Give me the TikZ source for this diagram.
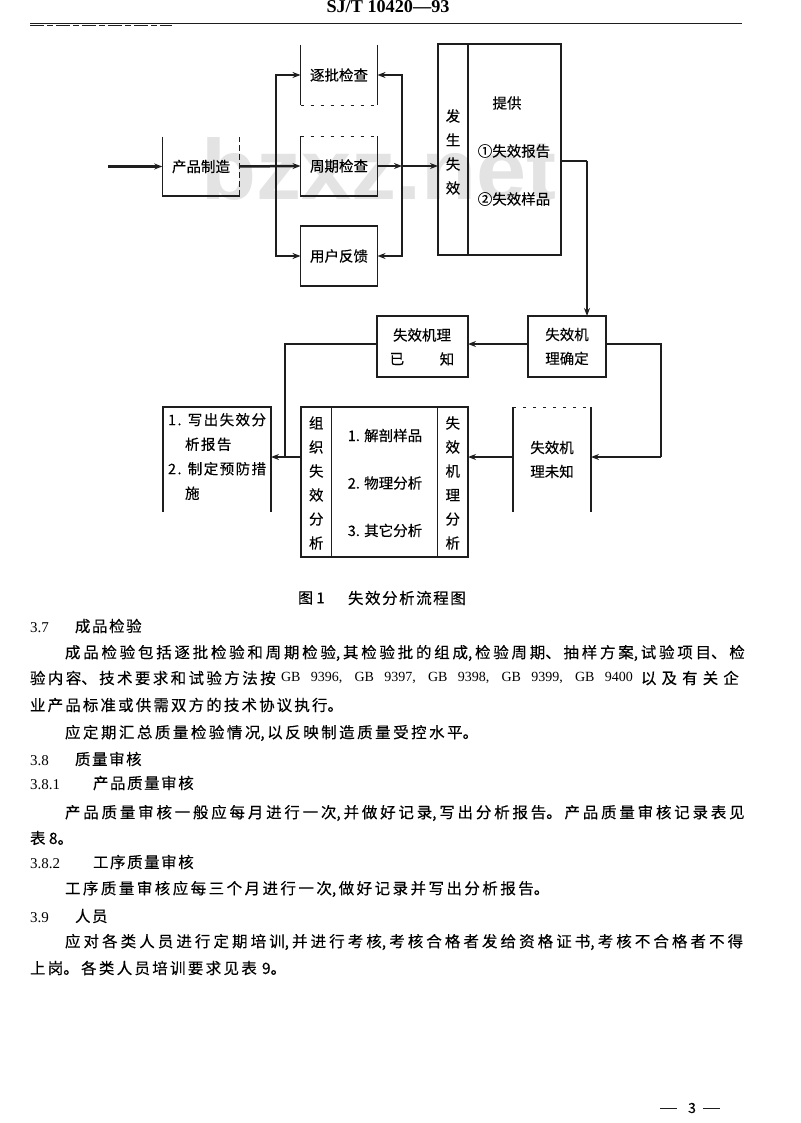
\documentclass[tikz,border=0pt]{standalone}
\usepackage{fontspec}
\usepackage{graphicx}
\setmainfont{Liberation Serif}
\newfontfamily\cjk[FakeBold=0.25]{Noto Sans CJK SC}
\newfontfamily\cjkwide[LetterSpace=10,FakeBold=0.25]{Noto Sans CJK SC}
\newfontfamily\wm{Liberation Sans}
\usetikzlibrary{arrows.meta,calc}
\XeTeXlinebreaklocale "zh"
\XeTeXlinebreakskip=0pt plus 6pt minus 1pt
\definecolor{ink}{HTML}{1E1E1E}
\definecolor{mark}{HTML}{E3E3E3}
\tikzset{
  x=1pt,y=-1pt,
  every node/.style={inner sep=0pt,outer sep=0pt,text=black},
  boxlabel/.style={font=\cjk\fontsize{14.5}{24}\selectfont,align=center},
  plain/.style={boxlabel,minimum width=#1,minimum height=60pt},
  plain/.default=77pt,
  edge/.style={draw=ink,line width=1.1pt},
  faint/.style={draw=ink,line width=.9pt,dash pattern=on 3pt off 7pt},
  thick link/.style={draw=ink,line width=2.5pt},
  thin link/.style={draw=ink,line width=1.3pt},
  tip/.style={-{Stealth[length=8pt,width=6pt]}},
  line/.style={font=\cjk\fontsize{15.5}{18}\selectfont,anchor=west},
  head/.style={font=\cjkwide\fontsize{15.5}{18}\selectfont,anchor=west},
  num/.style={font=\fontsize{15}{18}\selectfont,anchor=west},
}
\begin{document}
\begin{tikzpicture}
\useasboundingbox (0,0) rectangle (800,1123);
\fill[white] (0,0) rectangle (800,1123);

% watermark
\node[text=mark,anchor=center] (wmark) at (379,169) {\resizebox{355pt}{62pt}{\wm\bfseries bzxz.net}};

% header
\node (hdr) at (388,7) {\resizebox{123pt}{12pt}{\bfseries SJ/T 10420—93}};
\coordinate (ruleL) at (30,24);
\coordinate (ruleR) at (742,24);
\coordinate (ruleM) at (172,25.5);
\draw[ink,line width=1pt] (ruleL) -- (ruleR);
\draw[ink,line width=1pt,dash pattern=on 14pt off 3pt on 6pt off 3pt] (30,25.5) -- (ruleM);

% upper row of boxes
\node[plain=77.5pt,minimum height=59pt] (mfg) at (201,166.5) {产品制造};
\node[plain] (batch) at (339,75) {逐批检查};
\node[plain] (period) at (339,166) {周期检查};
\node[plain] (user) at (339,256) {用户反馈};
\node[minimum width=30pt,minimum height=211pt] (occur) at (453,149.5) {};
\node[minimum width=93pt,minimum height=211pt] (supply) at (514.5,149.5) {};
\node[boxlabel] (occurL) at (453,152) {发\\生\\失\\效};
\node[boxlabel] (sup1) at (507,103) {提供};
\node[boxlabel] (sup2) at (514,151) {①失效报告};
\node[boxlabel] (sup3) at (514,199) {②失效样品};

% upper box outlines
\draw[edge] (mfg.north west) -- (mfg.south west) -- (mfg.south east);
\draw[edge,dash pattern=on 6pt off 3pt] (mfg.south east) -- (mfg.north east);
\draw[edge] (batch.north west) -- (batch.south west);
\draw[edge] (batch.north east) -- (batch.south east);
\draw[faint] (batch.south west) -- (batch.south east);
\draw[faint] (period.north west) -- (period.north east);
\draw[edge] (period.north west) -- (period.south west) -- (period.south east) -- (period.north east);
\draw[edge] (user.north west) rectangle (user.south east);
\draw[edge] (occur.north west) rectangle (supply.south east);
\draw[edge] (occur.north east) -- (occur.south east);

% lower boxes
\node[minimum width=91pt,minimum height=61pt] (known) at (422.5,346.5) {};
\node[boxlabel] (known1) at (422,335) {失效机理};
\node[boxlabel] (known2a) at (397,359) {已};
\node[boxlabel] (known2b) at (447,359) {知};
\node[plain=78pt,minimum height=61pt] (fixed) at (567,346.5) {失效机\\理确定};
\node[boxlabel,minimum width=78pt,minimum height=105pt] (unknown) at (552,459.5) {失效机\\理未知};
\node[minimum width=108pt,minimum height=105pt] (report) at (217,459.5) {};
\node[font=\cjkwide\fontsize{14.5}{24.5}\selectfont,align=left,anchor=north west] (reptext) at (168,413) {1. 写出失效分\\\hspace*{17pt}析报告\\2. 制定预防措\\\hspace*{17pt}施};
\node[minimum width=30.5pt,minimum height=150pt] (org) at (316.25,482) {};
\node[minimum width=106pt,minimum height=150pt] (mid) at (384.5,482) {};
\node[minimum width=30.5pt,minimum height=150pt] (mech) at (452.75,482) {};
\node[boxlabel] (orgL) at (316.25,483) {组\\织\\失\\效\\分\\析};
\node[font=\cjk\fontsize{14.5}{47.5}\selectfont,align=center] (midL) at (385,483) {1. 解剖样品\\2. 物理分析\\3. 其它分析};
\node[boxlabel] (mechL) at (452.75,483) {失\\效\\机\\理\\分\\析};

\draw[edge] (known.north west) rectangle (known.south east);
\draw[edge] (fixed.north west) rectangle (fixed.south east);
\draw[edge] (unknown.south west) -- (unknown.north west);
\draw[edge] (unknown.north east) -- (unknown.south east);
\draw[faint] (unknown.north west) -- (unknown.north east);
\draw[edge] (report.south west) -- (report.north west) -- (report.north east) -- (report.south east);
\draw[edge] (org.north west) rectangle (mech.south east);
\draw[edge] (org.north east) -- (org.south east);
\draw[edge] (mech.north west) -- (mech.south west);

% junctions
\coordinate (start) at (108,166.5);
\coordinate (busL) at (276,166.5);
\coordinate (busR) at (402,166);
\coordinate (out) at (561,161);
\coordinate (outC) at (587,161);
\coordinate (turnR) at (661,344);
\coordinate (turnD) at (661,457);
\coordinate (leftBus) at (285,344);
\coordinate (leftJ) at (285,457);

% upper connectors
\draw[thick link,tip] (start) -- (mfg.west);
\draw[thick link,tip] (mfg.east) -- (period.west);
\draw[thick link,tip] (busL) |- (batch.west);
\draw[thick link,tip] (busL) |- (user.west);
\draw[thin link,tip] (period.east) -- (busR);
\draw[thick link,tip] (busR) |- (batch.east);
\draw[thick link,tip] (busR) |- (user.east);
\draw[thin link,tip] (busR) -- (busR -| occur.west);

% to the lower part
\draw[thin link] (out) -- (outC);
\draw[thick link,tip] (outC) -- (outC |- fixed.north);
\draw[thick link,tip] (fixed.west |- turnR) -- (known.east |- turnR);
\draw[thick link] (known.west |- leftBus) -- (leftBus) -- (leftJ);
\draw[thick link] (fixed.east |- turnR) -- (turnR) -- (turnD);
\draw[thick link,tip] (turnD) -- (unknown.east |- turnD);
\draw[thin link,tip] (unknown.west |- turnD) -- (mech.east |- turnD);
\draw[thick link,tip] (org.west |- leftJ) -- (report.east |- leftJ);

% caption
\node[font=\cjk\fontsize{15}{16}\selectfont,anchor=west] (cap1) at (298,598) {图 1};
\node[font=\cjkwide\fontsize{15.5}{16}\selectfont,anchor=west] (cap2) at (348,598) {失效分析流程图};

% body text
\node[num] (n37) at (30,627.5) {3.7};
\node[head] (s37) at (75,626) {成品检验};
\node[line,text width=694pt] (l1) at (65,653) {\parfillskip=0pt\noindent 成品检验包括逐批检验和周期检验,其检验批的组成,检验周期、抽样方案,试验项目、检\par};
\node[line,text width=258pt] (l2a) at (30,678) {\parfillskip=0pt\noindent 验内容、技术要求和试验方法按\par};
\node[font=\fontsize{14}{18}\selectfont,anchor=west] (l2b) at (281,678) {\makebox[352pt][s]{GB 9396, GB 9397, GB 9398, GB 9399, GB 9400}};
\node[line,text width=124pt] (l2c) at (641,678) {\parfillskip=0pt\noindent 以及有关企\par};
\node[line,text width=324pt] (l3) at (30,705) {\parfillskip=0pt\noindent 业产品标准或供需双方的技术协议执行。\par};
\node[line,text width=426pt] (l4) at (65,733) {\parfillskip=0pt\noindent 应定期汇总质量检验情况,以反映制造质量受控水平。\par};
\node[num] (n38) at (30,760.5) {3.8};
\node[head] (s38) at (75,759) {质量审核};
\node[num] (n381) at (30,784.5) {3.8.1};
\node[head] (s381) at (93,783) {产品质量审核};
\node[line,text width=694pt] (l5) at (65,813) {\parfillskip=0pt\noindent 产品质量审核一般应每月进行一次,并做好记录,写出分析报告。产品质量审核记录表见\par};
\node[line] (l6) at (30,838) {表 8。};
\node[num] (n382) at (30,863.5) {3.8.2};
\node[head] (s382) at (93,862) {工序质量审核};
\node[line,text width=497pt] (l7) at (65,889) {\parfillskip=0pt\noindent 工序质量审核应每三个月进行一次,做好记录并写出分析报告。\par};
\node[num] (n39) at (30,917.5) {3.9};
\node[head] (s39) at (75,916) {人员};
\node[line,text width=694pt] (l8) at (65,942) {\parfillskip=0pt\noindent 应对各类人员进行定期培训,并进行考核,考核合格者发给资格证书,考核不合格者不得\par};
\node[line,text width=268pt] (l9) at (30,968) {\parfillskip=0pt\noindent 上岗。各类人员培训要求见表 9。\par};

% footer
\node[font=\cjk\fontsize{14}{16}\selectfont] (pg) at (692,1108) {3};
\coordinate (d1a) at (660,1108); \coordinate (d1b) at (677,1108);
\coordinate (d2a) at (703,1108); \coordinate (d2b) at (720,1108);
\draw[ink,line width=1pt] (d1a) -- (d1b);
\draw[ink,line width=1pt] (d2a) -- (d2b);
\end{tikzpicture}
\end{document}
